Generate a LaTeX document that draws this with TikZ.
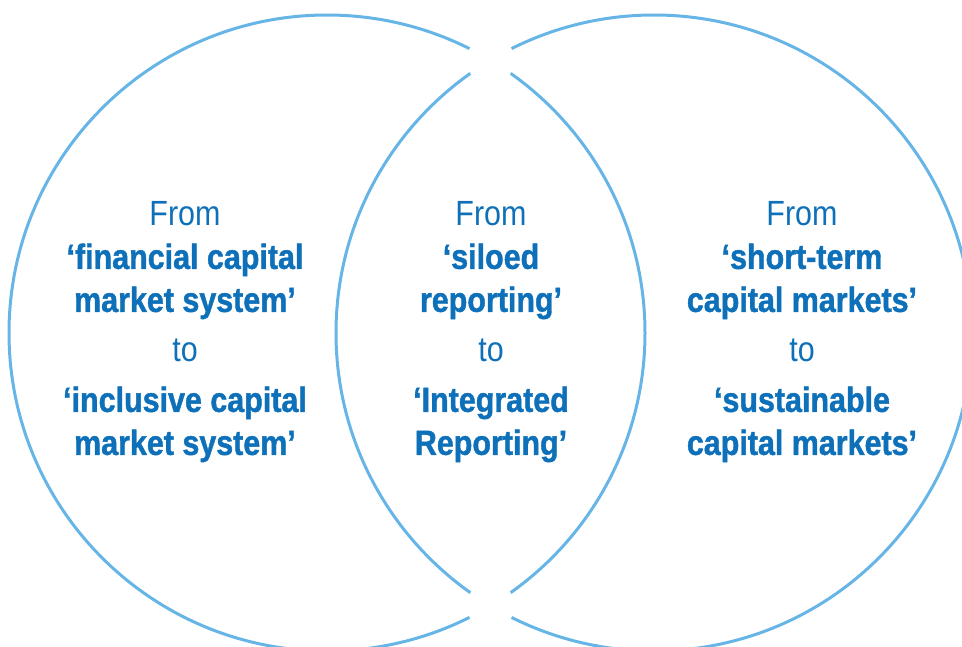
\documentclass[tikz,border=0pt]{standalone}
\usepackage{fontspec}
\setmainfont{Liberation Sans}[FakeStretch=0.87, BoldFeatures={FakeBold=1.2}]
\usetikzlibrary{intersections}
\definecolor{ringblue}{HTML}{66B5E6}
\definecolor{textblue}{HTML}{0D70B8}

\begin{document}
\begin{tikzpicture}[x=1pt,y=-1pt,
  ring/.style={draw=ringblue, line width=3pt},
  gap/.style={fill=white},
  stage/.style={text=textblue, align=center, font=\fontsize{35}{43}\selectfont}]
\useasboundingbox (0,0) rectangle (962,646);
\coordinate (cl) at (327,333);
\coordinate (cr) at (654,333);
\draw[ring, name path=leftring] (cl) circle (318);
\draw[ring, name path=rightring] (cr) circle (318);
\path[name intersections={of=leftring and rightring, name=x}];
\fill[gap] (x-1) circle (24);
\fill[gap] (x-2) circle (24);
\node[stage] (leftstage) at (185,332) {From\\
  \textbf{‘financial capital}\\\textbf{market system’}\\[7pt]
  to\\[7pt]
  \textbf{‘inclusive capital}\\\textbf{market system’}};
\node[stage] (midstage) at (491,332) {From\\
  \textbf{‘siloed}\\\textbf{reporting’}\\[7pt]
  to\\[7pt]
  \textbf{‘Integrated}\\\textbf{Reporting’}};
\node[stage] (rightstage) at (802,332) {From\\
  \textbf{‘short-term}\\\textbf{capital markets’}\\[7pt]
  to\\[7pt]
  \textbf{‘sustainable}\\\textbf{capital markets’}};
\end{tikzpicture}
\end{document}
